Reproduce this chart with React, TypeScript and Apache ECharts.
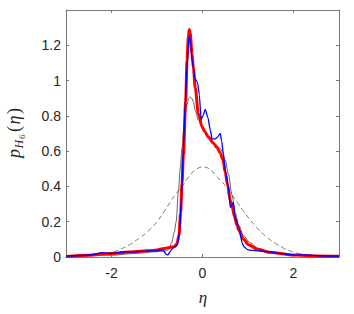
import React, { useEffect, useRef } from "react";
import * as echarts from "echarts";

// ---- data ----
const xTicks = [-2, 0, 2];
const yTickStep = 0.2;

const dashedEta = [-3, -2.6, -2.3, -2.0, -1.8, -1.6, -1.4, -1.2, -1.0, -0.85, -0.7, -0.58, -0.45, -0.3, -0.15, 0, 0.15, 0.3, 0.45, 0.6, 0.75, 0.9, 1.05, 1.2, 1.4, 1.6, 1.8, 2.0, 2.3, 2.6, 3.0];
const dashedP = [0.002, 0.005, 0.011, 0.025, 0.045, 0.07, 0.105, 0.145, 0.2, 0.255, 0.315, 0.36, 0.4, 0.455, 0.495, 0.511, 0.5, 0.46, 0.42, 0.37, 0.315, 0.26, 0.21, 0.165, 0.115, 0.078, 0.048, 0.028, 0.01, 0.005, 0.002];

const grayEta = [-3, -2.5, -2, -1.5, -1.0, -0.8, -0.73, -0.68, -0.62, -0.58, -0.53, -0.49, -0.45, -0.4, -0.35, -0.3, -0.27, -0.24, -0.2, -0.16, -0.09, 0.02, 0.12, 0.21, 0.3, 0.39, 0.45, 0.5, 0.57, 0.65, 0.72, 0.8, 0.9, 1.05, 1.24, 1.5, 1.72, 2.0, 2.5, 3.0];
const grayP = [0.002, 0.012, 0.01, 0.02, 0.03, 0.035, 0.045, 0.08, 0.14, 0.2, 0.37, 0.5, 0.62, 0.76, 0.86, 0.9, 0.908, 0.9, 0.88, 0.83, 0.776, 0.72, 0.68, 0.65, 0.635, 0.615, 0.59, 0.55, 0.47, 0.35, 0.25, 0.18, 0.12, 0.08, 0.045, 0.03, 0.02, 0.012, 0.005, 0.002];

const redEta = [-3, -2.5, -2, -1.5, -1.2, -1.0, -0.8, -0.7, -0.62, -0.56, -0.52, -0.48, -0.45, -0.42, -0.37, -0.34, -0.31, -0.29, -0.27, -0.23, -0.2, -0.16, -0.09, -0.01, 0.05, 0.13, 0.24, 0.32, 0.39, 0.45, 0.5, 0.55, 0.61, 0.65, 0.7, 0.76, 0.8, 0.9, 1.02, 1.2, 1.5, 2.0, 2.5, 3.0];
const redP = [0.003, 0.01, 0.02, 0.03, 0.035, 0.04, 0.05, 0.055, 0.06, 0.075, 0.12, 0.25, 0.42, 0.58, 0.88, 1.12, 1.25, 1.29, 1.27, 1.15, 1.07, 0.96, 0.81, 0.74, 0.71, 0.68, 0.645, 0.62, 0.59, 0.55, 0.48, 0.41, 0.32, 0.29, 0.23, 0.18, 0.15, 0.1, 0.068, 0.045, 0.025, 0.011, 0.006, 0.004];

const blueEta = [-3, -2.5, -2.2, -2, -1.7, -1.5, -1.2, -1.0, -0.93, -0.85, -0.8, -0.76, -0.7, -0.65, -0.58, -0.54, -0.5, -0.46, -0.42, -0.38, -0.34, -0.31, -0.29, -0.26, -0.23, -0.16, -0.11, -0.07, -0.03, 0.01, 0.06, 0.12, 0.17, 0.21, 0.28, 0.33, 0.39, 0.42, 0.46, 0.5, 0.57, 0.61, 0.64, 0.68, 0.72, 0.8, 0.87, 0.91, 1.0, 1.2, 1.46, 1.7, 2.0, 2.3, 2.6, 3.0];
const blueP = [0.005, 0.01, 0.025, 0.02, 0.03, 0.028, 0.035, 0.035, 0.04, 0.035, 0.015, 0.012, 0.035, 0.05, 0.06, 0.08, 0.15, 0.35, 0.62, 0.87, 1.08, 1.2, 1.257, 1.22, 1.115, 1.01, 0.99, 0.92, 0.78, 0.8, 0.836, 0.79, 0.72, 0.67, 0.67, 0.68, 0.7, 0.66, 0.58, 0.49, 0.4, 0.28, 0.29, 0.31, 0.22, 0.17, 0.08, 0.058, 0.04, 0.035, 0.03, 0.02, 0.011, 0.012, 0.006, 0.005];

const zip = (xs: number[], ys: number[]) => xs.map((x, i) => [x, ys[i]]);

const AXIS_COLOR = "#7a7a7a";
const TEXT_COLOR = "#262626";
const SANS = '"Liberation Sans", Arial, Helvetica, sans-serif';
const SERIF = '"Liberation Serif", "DejaVu Serif", serif';

export default function App() {
  const ref = useRef<HTMLDivElement>(null);
  useEffect(() => {
    document.body.style.margin = "0";
    const chart = echarts.init(ref.current!, null, { renderer: "svg" });
    const axisCommon = {
      axisLine: { show: true, onZero: false, lineStyle: { color: AXIS_COLOR, width: 1 } },
      splitLine: { show: false },
    };
    chart.setOption({
      animation: false,
      backgroundColor: "#ffffff",
      grid: { left: 66, top: 10, right: 15, bottom: 57 },
      xAxis: [
        {
          type: "value", min: -3, max: 3, position: "bottom", ...axisCommon,
          axisTick: { show: true, inside: true, length: 3, customValues: xTicks, lineStyle: { color: AXIS_COLOR } },
          axisLabel: { customValues: xTicks, color: TEXT_COLOR, fontSize: 14, fontFamily: SANS, margin: 9, formatter: (v: number) => String(v) },
        },
        {
          type: "value", min: -3, max: 3, position: "top", ...axisCommon,
          axisTick: { show: true, inside: true, length: 3, customValues: xTicks, lineStyle: { color: AXIS_COLOR } },
          axisLabel: { show: false },
        },
      ],
      yAxis: [
        {
          type: "value", min: 0, max: 1.4, interval: yTickStep, position: "left", ...axisCommon,
          axisTick: { show: true, inside: true, length: 3, lineStyle: { color: AXIS_COLOR } },
          axisLabel: {
            color: TEXT_COLOR, fontSize: 14, fontFamily: SANS, margin: 5,
            formatter: (v: number) => (Math.abs(v - 1.4) < 1e-6 ? "" : String(Math.round(v * 10) / 10)),
          },
        },
        {
          type: "value", min: 0, max: 1.4, interval: yTickStep, position: "right", ...axisCommon,
          axisTick: { show: true, inside: true, length: 3, lineStyle: { color: AXIS_COLOR } },
          axisLabel: { show: false },
        },
      ],
      series: [
        { type: "line", data: zip(dashedEta, dashedP), showSymbol: false, smooth: 0.4, lineStyle: { color: "#6e6e6e", width: 0.9, type: [5, 3] }, z: 1 },
        { type: "line", data: zip(grayEta, grayP), showSymbol: false, smooth: 0.3, smoothMonotone: "x", lineStyle: { color: "#505050", width: 0.9 }, z: 2 },
        { type: "line", data: zip(redEta, redP), showSymbol: false, smooth: 0.3, smoothMonotone: "x", lineStyle: { color: "#ff0000", width: 3 }, z: 3 },
        { type: "line", data: zip(blueEta, blueP), showSymbol: false, smooth: 0.2, smoothMonotone: "x", lineStyle: { color: "#0000ff", width: 1.3 }, z: 4 },
      ],
      graphic: [
        {
          type: "text", x: 203, y: 297,
          style: { text: "η", font: `italic 17px ${SERIF}`, fill: TEXT_COLOR, align: "center", verticalAlign: "middle" },
        },
        {
          type: "group", x: 14, y: 158, rotation: Math.PI / 2,
          children: [
            { type: "text", x: 0, y: 0, style: { text: "p", font: `italic 18px ${SERIF}`, fill: TEXT_COLOR, align: "left", verticalAlign: "middle" } },
            { type: "text", x: 9.5, y: 5, style: { text: "H", font: `italic 12px ${SERIF}`, fill: TEXT_COLOR, align: "left", verticalAlign: "middle" } },
            { type: "text", x: 19, y: 8, style: { text: "6", font: `9px ${SERIF}`, fill: TEXT_COLOR, align: "left", verticalAlign: "middle" } },
            { type: "text", x: 26, y: 0, style: { text: "(", font: `18px ${SERIF}`, fill: TEXT_COLOR, align: "left", verticalAlign: "middle" } },
            { type: "text", x: 33.5, y: 0, style: { text: "η", font: `italic 18px ${SERIF}`, fill: TEXT_COLOR, align: "left", verticalAlign: "middle" } },
            { type: "text", x: 44, y: 0, style: { text: ")", font: `18px ${SERIF}`, fill: TEXT_COLOR, align: "left", verticalAlign: "middle" } },
          ],
        },
      ],
    });
    return () => chart.dispose();
  }, []);
  return <div ref={ref} style={{ width: 354, height: 314 }} />;
}
